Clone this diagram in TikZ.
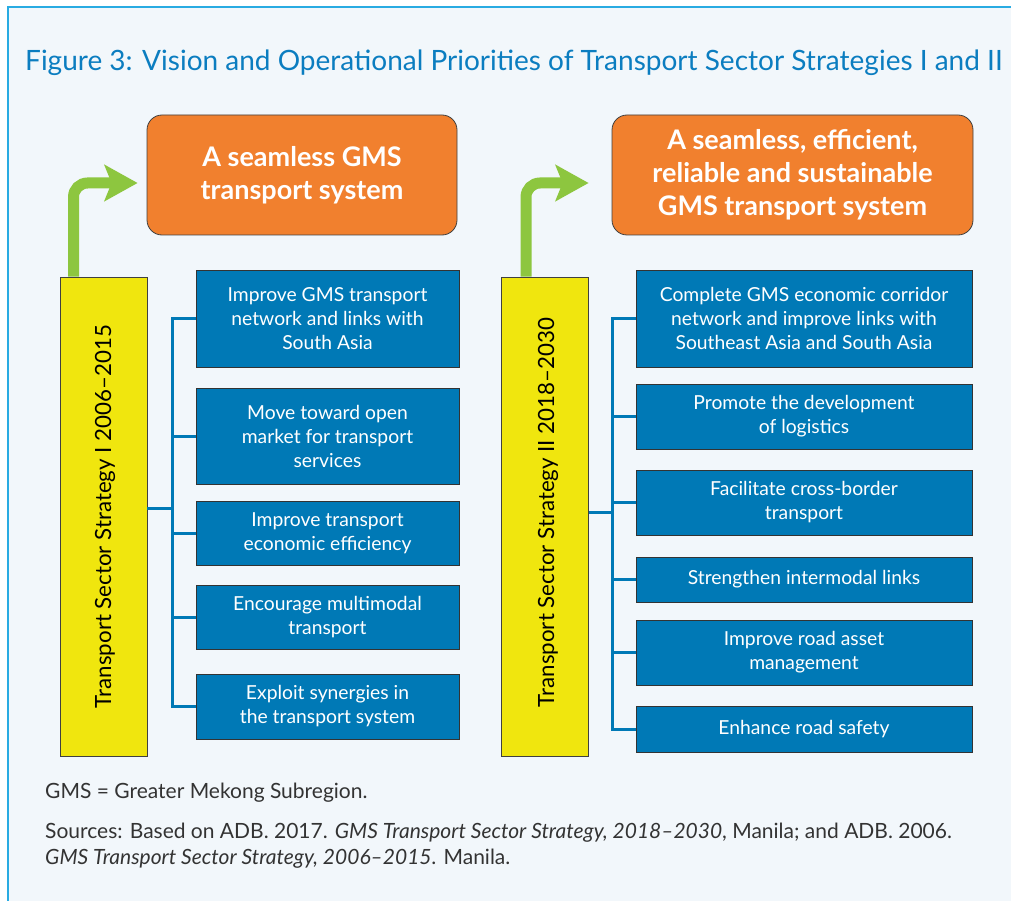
\documentclass[tikz,border=0pt]{standalone}
\usepackage{fontspec}
\setmainfont{Lato}
\usepackage{tikz}
\usetikzlibrary{arrows.meta, positioning, calc}
\definecolor{framecyan}{HTML}{29ABE2}
\definecolor{pagebg}{HTML}{F2F7FB}
\definecolor{titleblue}{HTML}{0B7DC0}
\definecolor{visionorange}{HTML}{F1802E}
\definecolor{prioblue}{HTML}{0079B6}
\definecolor{stratyellow}{HTML}{F0E60E}
\definecolor{growgreen}{HTML}{8DC63F}
\definecolor{notegray}{HTML}{333333}

\begin{document}
\begin{tikzpicture}[x=1pt, y=-1pt,
    vision/.style={draw=black!75, line width=0.8pt, fill=visionorange, rounded corners=15pt,
      text=white, font=\fontsize{27}{33}\selectfont\bfseries, align=center, inner sep=0pt,
      minimum height=120pt},
    strategy/.style={draw=black!75, line width=0.8pt, fill=stratyellow, inner sep=0pt,
      minimum width=87pt, minimum height=479pt},
    priobox/.style={draw=black!80, line width=0.8pt, fill=prioblue, text=white, align=center,
      font=\fontsize{19.3}{24}\selectfont, inner sep=0pt},
    note/.style={anchor=base west, text=notegray, font=\fontsize{21}{26}\selectfont, inner sep=0pt},
    link/.style={prioblue, line width=3pt},
    growth/.style={growgreen, line width=11pt, rounded corners=14pt,
      -{Stealth[length=33pt, width=36pt, inset=7pt]}}]
    \useasboundingbox (0,0) rectangle (1011,901);
    % Page frame
    \fill[pagebg] (8,7) rectangle (1011,901);
    \draw[framecyan, line width=2pt] (8,901) -- (8,7) -- (1011,7);
    \node[anchor=base west, text=titleblue, font=\fontsize{28}{32}\selectfont, inner sep=0pt] (title)
      at (25,71) {Figure 3: Vision and Operational Priorities of Transport Sector Strategies I and II};

    % Strategy I
    \node[vision, minimum width=310pt] (v1) at (302,175) {A seamless GMS\\transport system};
    \node[strategy] (s1) at (103.5,516.5) {};
    \node[rotate=90, font=\fontsize{22.3}{26}\selectfont] at ([xshift=1.5pt]s1.center)
      {Transport Sector Strategy I 2006--2015};
    \draw[growth] ([xshift=-30pt]s1.north) |- ([xshift=-9pt, yshift=-8pt]v1.west);
    \node[priobox, minimum width=263pt, minimum height=97pt] (p11) at (327.5,318.5)
      {Improve GMS transport\\network and links with\\South Asia};
    \node[priobox, minimum width=263pt, minimum height=96pt] (p12) at (327.5,436)
      {Move toward open\\market for transport\\services};
    \node[priobox, minimum width=263pt, minimum height=64pt] (p13) at (327.5,533)
      {Improve transport\\economic efficiency};
    \node[priobox, minimum width=263pt, minimum height=64pt] (p14) at (327.5,617)
      {Encourage multimodal\\transport};
    \node[priobox, minimum width=263pt, minimum height=65pt] (p15) at (327.5,706.5)
      {Exploit synergies in\\the transport system};
    \coordinate (bus1) at (172,0);
    \draw[link] ([yshift=8pt]s1.east) -- ([yshift=8pt]s1.east -| bus1);
    \draw[link] (p11.west) -| (p15.west -| bus1) -- (p15.west);
    \foreach \i in {2,3,4}
      \draw[link] (p1\i.west -| bus1) -- (p1\i.west);

    % Strategy II
    \node[vision, minimum width=361pt] (v2) at (792.5,175)
      {A seamless, efficient,\\reliable and sustainable\\GMS transport system};
    \node[strategy] (s2) at (545,516.5) {};
    \node[rotate=90, font=\fontsize{22.3}{26}\selectfont] at ([xshift=3pt, yshift=4pt]s2.center)
      {Transport Sector Strategy II 2018--2030};
    \draw[growth] ([xshift=-19pt]s2.north) |- ([xshift=-23pt, yshift=-8pt]v2.west);
    \node[priobox, minimum width=336pt, minimum height=97pt] (p21) at (804,318.5)
      {Complete GMS economic corridor\\network and improve links with\\Southeast Asia and South Asia};
    \node[priobox, minimum width=336pt, minimum height=65pt] (p22) at (804,416.5)
      {Promote the development\\of logistics};
    \node[priobox, minimum width=336pt, minimum height=65pt] (p23) at (804,502.5)
      {Facilitate cross-border\\transport};
    \node[priobox, minimum width=336pt, minimum height=45pt] (p24) at (804,579.5)
      {Strengthen intermodal links};
    \node[priobox, minimum width=336pt, minimum height=65pt] (p25) at (804,652.5)
      {Improve road asset\\management};
    \node[priobox, minimum width=336pt, minimum height=46pt] (p26) at (804,729)
      {Enhance road safety};
    \coordinate (bus2) at (612,0);
    \draw[link] ([yshift=4pt]s2.east) -- ([yshift=4pt]s2.east -| bus2);
    \draw[link] (p21.west) -| (p26.west -| bus2) -- (p26.west);
    \foreach \i in {2,...,5}
      \draw[link] (p2\i.west -| bus2) -- (p2\i.west);

    % Notes
    \node[note] (abbr) at (45,798) {GMS = Greater Mekong Subregion.};
    \node[note] (src1) at (45,838)
      {Sources: Based on ADB. 2017. \textit{GMS Transport Sector Strategy, 2018--2030}, Manila; and ADB. 2006.};
    \node[note] (src2) at (45,864) {\textit{GMS Transport Sector Strategy, 2006--2015}. Manila.};
  \end{tikzpicture}
\end{document}
